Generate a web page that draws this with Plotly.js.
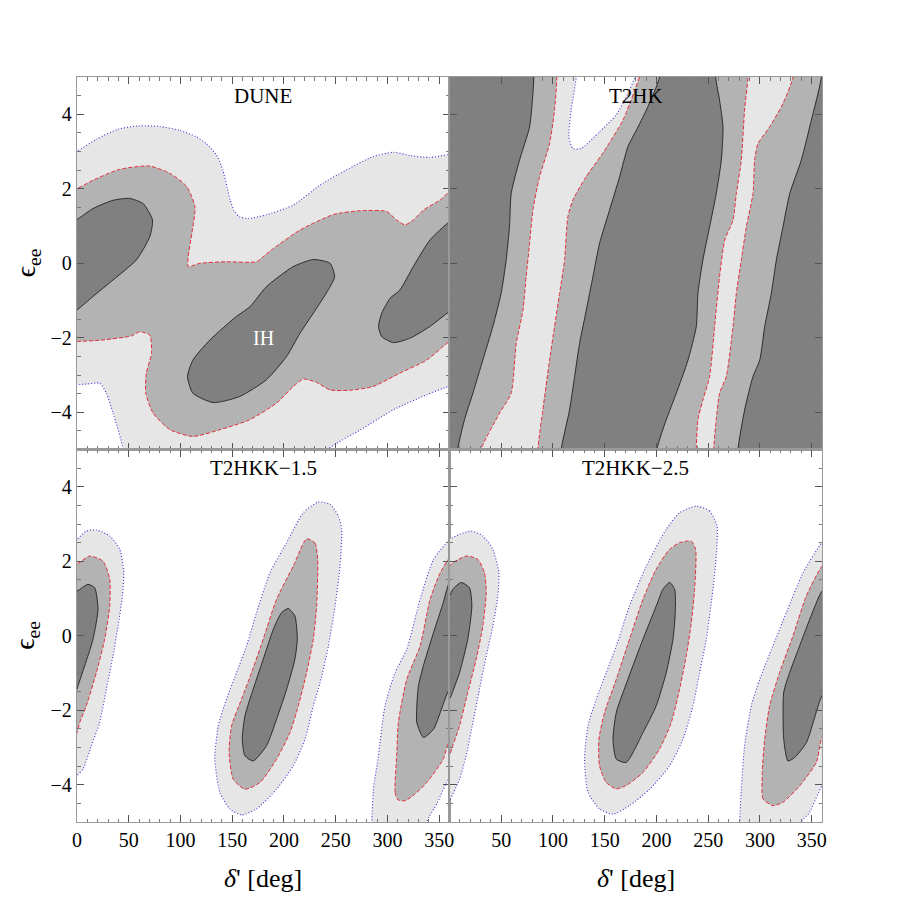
<!DOCTYPE html>
<html>
<head>
<meta charset="utf-8">
<script src="https://cdn.plot.ly/plotly-3.0.1.min.js"></script>
<style>body{margin:0;background:#fff}#plot{width:900px;height:900px}</style>
</head>
<body>
<div id="plot"></div>
<script>
// contour boundaries, as [delta' (deg), eps_ee] pairs
// DUNE
const duneOuter=[[-10,3.0],[0,3.02],[20,3.35],[40,3.6],[60,3.69],[80,3.67],[99,3.57],[115,3.4],[125,3.21],[135,2.9],[141,2.5],[145,2.05],[148,1.7],[152,1.4],[157,1.25],[165,1.2],[183,1.3],[209,1.56],[235,2.1],[260,2.5],[286,2.86],[306,2.98],[322,2.89],[341,2.84],[360,2.92],[370,2.95],
  [370,-3.25],[360,-3.3],[338,-3.53],[306,-3.93],[274,-4.47],[250,-4.85],[238,-5.1],[236,-6],[44,-6],[44.5,-5.0],[34.8,-4.02],[28.4,-3.49],[22,-3.22],[10,-3.24],[0,-3.26],[-10,-3.26]];
const duneMid=[[-10,2.0],[0,2.01],[15.5,2.23],[41,2.52],[70,2.61],[90,2.41],[106,2.06],[114,1.52],[111,0.8],[107.5,0.18],[107.5,-0.09],[119,0.0],[144.5,0.04],[173.5,0.04],[180,0.18],[190,0.4],[215.5,0.89],[248,1.31],[273.5,1.41],[299,1.39],[309,1.16],[317,1.03],[325,1.16],[335,1.43],[351,1.7],[360,1.92],[370,2.0],
  [370,-2.0],[360,-2.1],[338,-2.6],[312,-2.95],[286,-3.31],[264,-3.41],[244.5,-3.4],[231.6,-3.2],[218.7,-3.11],[209,-3.31],[193,-3.75],[167,-4.2],[138,-4.47],[112,-4.65],[90,-4.47],[73.5,-4.02],[66.5,-3.49],[67,-2.95],[72,-2.42],[70.3,-1.93],[60.6,-1.84],[52.6,-1.95],[25,-2.06],[0,-2.1],[-10,-2.1]];
const duneDarkA=[[-10,1.1],[0,1.18],[15.5,1.47],[34.8,1.69],[51,1.74],[64,1.6],[73,1.16],[70.3,0.71],[57.4,0.09],[34.8,-0.45],[15.5,-0.89],[0,-1.25],[-10,-1.35]];
const duneDarkB=[[228.4,0.1],[244.5,0.0],[249,-0.36],[241,-0.8],[228.4,-1.34],[215.5,-1.88],[202.6,-2.5],[183,-3.13],[157,-3.58],[131.6,-3.74],[112,-3.49],[106.8,-3.04],[112,-2.6],[128.4,-2.06],[154,-1.43],[167,-1.17],[183,-0.63],[209,-0.09],[228.4,0.1]];
const duneDarkC=[[370,1.2],[360,1.11],[341,0.62],[325,-0.09],[312,-0.72],[302.6,-0.94],[294.5,-1.34],[291.4,-1.7],[294.5,-1.97],[305.8,-2.13],[322,-2.01],[341,-1.7],[360,-1.3],[370,-1.2]];

// T2HK
const t2hkAll=[[-10,-6],[370,-6],[370,6],[-10,6]];
const t2hkHole=[[122.5,5.6],[122.5,5.0],[117.6,4.11],[115.4,3.39],[119.3,3.08],[127.3,3.08],[145,3.53],[161,3.98],[172.4,4.56],[179,5.0],[180,5.6]];
const t2hkMidA=[[-10,6],[104,6],[103.8,5],[101.5,4.11],[96.7,3.21],[87,2.32],[80.6,1.43],[77.4,0.53],[74.1,-0.36],[71,-1.26],[64.5,-2.15],[59.6,-3.49],[48.3,-4.03],[30.6,-5.0],[29,-6],[-10,-6]];
const t2hkMidB=[[183.7,5],[167.6,3.84],[148,2.95],[132,2.32],[119.3,1.7],[114.4,1.25],[111.2,0.09],[106.4,-0.81],[101.5,-1.7],[96.7,-2.6],[90.2,-3.94],[85.4,-5.0],[85,-6],[239,-6],[238.5,-5],[240.1,-4.2],[244.9,-3.67],[251.4,-3.04],[256.2,-1.7],[261,-0.36],[266,0.62],[274,1.16],[277.2,1.87],[282,2.77],[285.2,4.11],[288.5,5],[289,6],[184,6]];
const t2hkMidC=[[332,6],[332,5],[322.3,4.29],[309.4,3.66],[298.1,3.21],[294.9,2.77],[293.3,1.87],[286.9,0.98],[282,0.09],[277.2,-0.81],[274,-1.7],[267.5,-3.04],[261,-3.49],[257.8,-4.2],[255.3,-5],[255,-6],[370,-6],[370,6]];
const t2hkDarkA=[[-10,6],[81.5,6],[81.5,5],[80.6,4.55],[77.4,3.66],[67.7,2.77],[59.6,1.87],[58,0.98],[54.8,0.09],[49.9,-0.81],[41.9,-1.7],[32.2,-2.6],[22.6,-3.49],[14.5,-4.2],[8,-5],[7.5,-6],[-10,-6]];
const t2hkDarkB=[[203,6],[203,5],[190.2,4.11],[180.5,3.57],[172.4,3.13],[164.4,2.32],[154.7,1.43],[145,0.53],[138.6,-0.36],[132.2,-1.26],[125.7,-2.15],[120.9,-3.04],[116,-3.94],[108,-5],[107.5,-6],[200,-6],[200.5,-5],[209.5,-4.2],[219.2,-3.49],[230.5,-2.6],[238.5,-1.7],[240.1,-0.81],[244.9,0.09],[251.4,0.98],[257.8,1.87],[262.7,2.77],[264.3,3.66],[261,4.38],[257.2,5],[257,6]];
const t2hkDarkC=[[359.4,6],[359.4,5],[349.7,3.84],[340,2.77],[328.8,1.87],[322.3,0.98],[315.9,0.09],[311,-0.81],[304.6,-1.7],[299.8,-2.6],[293.3,-3.04],[285.2,-3.94],[278.8,-5],[278.5,-6],[370,-6],[370,6]];

// T2HKK-1.5
const k15OuterL=[[-10,2.5],[0,2.59],[9,2.81],[18.7,2.84],[31.6,2.68],[41.3,2.32],[45.2,1.69],[43.9,1.07],[39.7,0.26],[34.8,-0.54],[28.4,-1.43],[21.9,-2.33],[13.9,-2.95],[5.8,-3.58],[0,-3.76],[-10,-4.3]];
const k15MidL=[[-10,1.8],[0,1.92],[12.3,2.14],[25.2,2.0],[31.6,1.52],[31.6,0.8],[26.8,-0.09],[18.7,-0.99],[9,-1.88],[2.6,-2.33],[0,-2.6],[-10,-3.2]];
const k15DarkL=[[-10,1.1],[0,1.2],[10.6,1.38],[17.1,1.29],[20.3,0.71],[15.5,-0.09],[7.4,-0.81],[1,-1.34],[0,-1.43],[-10,-2]];
const k15OuterM=[[233.2,3.59],[244.5,3.53],[252.6,3.21],[255.8,2.86],[254.2,1.87],[249.4,0.8],[243,-0.27],[235,-1.26],[228.4,-1.88],[220.3,-2.78],[209,-3.49],[192.9,-4.12],[173.5,-4.65],[159,-4.81],[147.7,-4.65],[138,-4.2],[133.2,-3.31],[136.5,-2.42],[144.5,-1.7],[154.2,-0.99],[163.9,-0.27],[173.5,0.62],[186.5,1.69],[202.6,2.5],[218.7,3.3],[233.2,3.59]];
const k15MidM=[[221.9,2.6],[230,2.49],[232.6,2.05],[231.6,0.8],[228.4,-0.09],[221.9,-0.99],[213.9,-1.88],[205.8,-2.6],[192.9,-3.31],[176.8,-3.94],[162.3,-4.12],[151,-3.85],[147,-3.13],[149.4,-2.42],[159,-1.7],[168.7,-0.99],[180,-0.09],[192.9,0.98],[209,1.87],[221.9,2.6]];
const k15DarkM=[[204.2,0.73],[210.6,0.53],[212.9,-0.09],[210.6,-0.63],[202.6,-1.44],[192.9,-2.24],[183.2,-2.95],[170.3,-3.36],[162.3,-3.22],[159.7,-2.78],[162.3,-2.15],[170.3,-1.43],[180,-0.63],[189.7,0.17],[197.7,0.62],[204.2,0.73]];
const k15OuterR=[[284,-6],[284.8,-5],[286.5,-4.12],[291.3,-3.22],[297.7,-1.88],[307.4,-0.99],[318.7,-0.36],[331.6,0.98],[344.5,2.05],[360,2.59],[370,2.9],[370,-3.6],[360,-3.8],[348,-4.5],[338,-5],[337,-6]];
const k15MidR=[[310,-4.4],[307.4,-4.2],[309,-3.22],[310.6,-2.33],[318.7,-1.17],[331.6,-0.27],[341.3,0.98],[351,1.69],[360,2.09],[370,2.3],[370,-2.5],[360,-2.78],[354,-3.31],[338,-3.94],[325,-4.29],[317,-4.43],[310,-4.4]];
const k15DarkR=[[328.4,-1.88],[328.4,-2.33],[334.8,-2.73],[344.5,-2.51],[360,-1.43],[370,-1.2],[370,1.6],[360,1.43],[354,0.89],[344.5,0.08],[334.8,-0.8],[330,-1.34],[328.4,-1.88]];

// T2HKK-2.5
const k25OuterL=[[-10,2.4],[0,2.59],[9.7,2.72],[21,2.81],[32.2,2.68],[41.9,2.32],[47.7,1.69],[46.7,1.07],[41.9,0.26],[35.5,-0.54],[29,-1.43],[22.6,-2.33],[16.1,-3.22],[9.7,-3.85],[0,-4.43],[-10,-5]];
const k25MidL=[[-10,1.7],[0,1.87],[3.2,1.96],[16.1,2.14],[27.4,2.05],[33.8,1.69],[35.5,1.16],[32.2,0.26],[25.8,-0.63],[17.7,-1.52],[9.7,-2.42],[3.2,-2.95],[0,-3.22],[-10,-3.9]];
const k25DarkL=[[-10,0.8],[0,1.07],[3.2,1.25],[11.3,1.43],[19.3,1.29],[21.6,0.8],[17.7,-0.09],[9.7,-0.99],[1.6,-1.61],[0,-1.7],[-10,-2.3]];
const k25OuterM=[[238.5,3.48],[251.4,3.35],[258.5,2.95],[257.8,2.14],[254.6,1.25],[248.2,-0.09],[241.7,-0.99],[235.3,-1.88],[225.6,-2.78],[212.7,-3.49],[193.4,-4.12],[174,-4.56],[158,-4.79],[145,-4.65],[133.8,-4.2],[130.5,-3.31],[133.8,-2.42],[141.8,-1.7],[151.5,-0.99],[161.2,-0.27],[174,0.8],[190.2,1.87],[209.5,2.86],[222.4,3.3],[238.5,3.48]];
const k25MidM=[[222.4,2.5],[233.7,2.54],[237.9,2.32],[236.9,1.25],[233.7,0.35],[228.8,-0.54],[222.4,-1.43],[214.3,-2.33],[203,-3.04],[187,-3.67],[170.8,-4.02],[161.2,-4.11],[151.5,-3.94],[145,-3.49],[144.4,-2.78],[149.9,-2.06],[161.2,-1.17],[174,-0.09],[187,0.98],[199.8,1.79],[212.7,2.32],[222.4,2.5]];
const k25DarkM=[[212.7,1.43],[217.6,1.25],[218.2,0.62],[216,-0.09],[209.5,-0.99],[199.8,-1.88],[187,-2.6],[170.8,-3.4],[161.2,-3.31],[158,-2.78],[161.2,-2.06],[172.4,-1.17],[187,-0.09],[199.8,0.8],[206.3,1.25],[212.7,1.43]];
const k25OuterR=[[280,-6],[280.4,-5],[282,-4.12],[285.2,-2.95],[291.7,-1.88],[299.8,-1.17],[312.6,-0.27],[325.5,0.62],[341.7,1.69],[360,2.5],[370,2.7],[370,-3.8],[360,-4.03],[348,-4.74],[340,-5],[339,-6]];
const k25MidR=[[312.6,-4.56],[303,-4.38],[302.3,-3.67],[304.6,-2.78],[309.4,-1.88],[319,-0.99],[332,0],[344.9,1.07],[360,1.87],[370,2.1],[370,-2.4],[360,-2.73],[354.5,-3.4],[338.4,-4.03],[322.3,-4.47],[312.6,-4.56]];
const k25DarkR=[[323,-1.52],[323,-2.78],[327.1,-3.36],[333.5,-3.27],[344.9,-2.87],[360,-1.61],[370,-1.3],[370,1.4],[360,1.2],[348.1,0.44],[338.4,-0.27],[328.7,-0.99],[323,-1.52]];

const panelNames=['DUNE','T2HK','T2HKK\u22121.5','T2HKK\u22122.5'];
const xTicks=[0,50,100,150,200,250,300,350];
const xTicksRight=[50,100,150,200,250,300,350];
const yTicks=[-4,-2,0,2,4];

const styles={
  light:{fill:'#e6e6e6',line:{color:'#3a3ad6',width:1.1,dash:'1px,2px'}},
  mid:{fill:'#b3b3b3',line:{color:'#e0303a',width:1,dash:'4px,2px'}},
  dark:{fill:'#808080',line:{color:'#111',width:0.8,dash:'solid'}},
  hole:{fill:'#ffffff',line:{color:'#3a3ad6',width:1.1,dash:'1px,2px'}},
  bg:{fill:'#e6e6e6',line:{color:'rgba(0,0,0,0)',width:0}}
};

function region(pts,kind,n){
  const s=styles[kind];
  return {
    x:pts.map(p=>p[0]), y:pts.map(p=>p[1]),
    xaxis:'x'+n, yaxis:'y'+n,
    type:'scatter', mode:'lines', fill:'toself', fillcolor:s.fill,
    line:Object.assign({shape:'spline',smoothing:0.6},s.line),
    hoverinfo:'skip', showlegend:false
  };
}

const data=[
  region(duneOuter,'light',''),region(duneMid,'mid',''),
  region(duneDarkA,'dark',''),region(duneDarkB,'dark',''),region(duneDarkC,'dark',''),
  region(t2hkAll,'bg','2'),region(t2hkHole,'hole','2'),
  region(t2hkMidA,'mid','2'),region(t2hkMidB,'mid','2'),region(t2hkMidC,'mid','2'),
  region(t2hkDarkA,'dark','2'),region(t2hkDarkB,'dark','2'),region(t2hkDarkC,'dark','2'),
  region(k15OuterL,'light','3'),region(k15OuterM,'light','3'),region(k15OuterR,'light','3'),
  region(k15MidL,'mid','3'),region(k15MidM,'mid','3'),region(k15MidR,'mid','3'),
  region(k15DarkL,'dark','3'),region(k15DarkM,'dark','3'),region(k15DarkR,'dark','3'),
  region(k25OuterL,'light','4'),region(k25OuterM,'light','4'),region(k25OuterR,'light','4'),
  region(k25MidL,'mid','4'),region(k25MidM,'mid','4'),region(k25MidR,'mid','4'),
  region(k25DarkL,'dark','4'),region(k25DarkM,'dark','4'),region(k25DarkR,'dark','4')
];

const tickFont={family:'Liberation Serif',size:20,color:'#000'};
function xax(dom,anchor,labels,vals){
  return {domain:dom,anchor:anchor,range:[0,360],tickvals:vals||xTicks,ticks:'inside',ticklen:7,tickcolor:'#555',
    minor:{dtick:10,ticks:'inside',ticklen:3.5,tickcolor:'#777'},
    showticklabels:labels,tickfont:tickFont,showline:true,linecolor:'#999',linewidth:1.2,mirror:'ticks',
    showgrid:false,zeroline:false,fixedrange:true};
}
function yax(dom,anchor,labels){
  return {domain:dom,anchor:anchor,range:[-5,5],tickvals:yTicks,ticks:'inside',ticklen:7,tickcolor:'#555',
    minor:{dtick:0.5,ticks:'inside',ticklen:3.5,tickcolor:'#777'},
    showticklabels:labels,tickfont:tickFont,showline:true,linecolor:'#999',linewidth:1.2,mirror:'ticks',
    showgrid:false,zeroline:false,fixedrange:true};
}

const titleFont={family:'Liberation Serif',size:21,color:'#000'};
const labelFont={family:'Liberation Serif',size:26,color:'#000'};
const epsFont={family:'Liberation Serif',size:28,color:'#000'};
const annotations=[
  {text:panelNames[0],x:180,y:4.5,xref:'x',yref:'y',showarrow:false,font:titleFont},
  {text:panelNames[1],x:180,y:4.5,xref:'x2',yref:'y2',showarrow:false,font:titleFont},
  {text:panelNames[2],x:180,y:4.5,xref:'x3',yref:'y3',showarrow:false,font:titleFont},
  {text:panelNames[3],x:180,y:4.5,xref:'x4',yref:'y4',showarrow:false,font:titleFont},
  {text:'IH',x:180,y:-2.0,xref:'x',yref:'y',showarrow:false,font:{family:'Liberation Serif',size:20,color:'#fff'}},
  {text:'\u03f5<sub>ee</sub>',x:-0.067,y:0.75,xref:'paper',yref:'paper',xanchor:'center',yanchor:'middle',textangle:-90,showarrow:false,font:epsFont},
  {text:'\u03f5<sub>ee</sub>',x:-0.067,y:0.25,xref:'paper',yref:'paper',xanchor:'center',yanchor:'middle',textangle:-90,showarrow:false,font:epsFont},
  {text:'<i>\u03b4</i>\' [deg]',x:0.25,y:-0.076,xref:'paper',yref:'paper',xanchor:'center',yanchor:'middle',showarrow:false,font:labelFont},
  {text:'<i>\u03b4</i>\' [deg]',x:0.75,y:-0.076,xref:'paper',yref:'paper',xanchor:'center',yanchor:'middle',showarrow:false,font:labelFont}
];

const layout={
  width:900,height:900,
  margin:{l:77,r:78,t:77,b:78},
  paper_bgcolor:'#fff',plot_bgcolor:'#fff',
  showlegend:false,
  xaxis:xax([0,0.5],'y',false), yaxis:yax([0.5,1],'x',true),
  xaxis2:xax([0.5,1],'y2',false), yaxis2:yax([0.5,1],'x2',false),
  xaxis3:xax([0,0.5],'y3',true), yaxis3:yax([0,0.5],'x3',true),
  xaxis4:xax([0.5,1],'y4',true,xTicksRight), yaxis4:yax([0,0.5],'x4',false),
  annotations:annotations
};

Plotly.newPlot('plot',data,layout,{staticPlot:true});
</script>
</body>
</html>
